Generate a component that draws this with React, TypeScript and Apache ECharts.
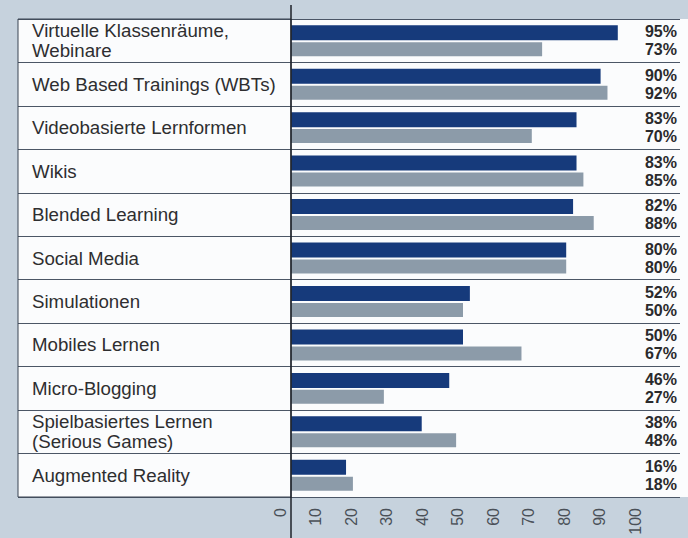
import React, { useEffect, useRef } from "react";
import * as echarts from "echarts";

const categories = [
  "Virtuelle Klassenräume,\nWebinare",
  "Web Based Trainings (WBTs)",
  "Videobasierte Lernformen",
  "Wikis",
  "Blended Learning",
  "Social Media",
  "Simulationen",
  "Mobiles Lernen",
  "Micro-Blogging",
  "Spielbasiertes Lernen\n(Serious Games)",
  "Augmented Reality",
];
const seriesDark = [95, 90, 83, 83, 82, 80, 52, 50, 46, 38, 16];
const seriesGrey = [73, 92, 70, 85, 88, 80, 50, 67, 27, 48, 18];
const xTicks = { min: 0, max: 100, interval: 10 };

const FONT = "'Liberation Sans', Arial, sans-serif";
const BG = "#c6d2dd";
const LINE = "#4b5666";

export default function App() {
  const ref = useRef<HTMLDivElement>(null);
  useEffect(() => {
    if (!ref.current) return;
    const chart = echarts.init(ref.current, null, { renderer: "svg" });
    chart.setOption({
      animation: false,
      backgroundColor: BG,
      textStyle: { fontFamily: FONT },
      grid: [
        { left: 291, right: 53, top: 19, bottom: 41, containLabel: false },
        { left: 280, right: 53, top: 19, bottom: 41, containLabel: false },
      ],
      graphic: [
        {
          type: "rect",
          z: -10,
          shape: { x: 18, y: 19, width: 670, height: 478 },
          style: { fill: "#fbfcfd" },
        },
        {
          type: "rect",
          z: 5,
          shape: { x: 18, y: 19, width: 273, height: 478 },
          style: { fill: "none", stroke: "#3a4452", lineWidth: 1 },
        },
        {
          type: "line",
          z: 10,
          shape: { x1: 291, y1: 5, x2: 291, y2: 538 },
          style: { stroke: "#1e2228", lineWidth: 1.5 },
        },
      ],
      xAxis: [
        {
          type: "value",
          gridIndex: 0,
          min: xTicks.min,
          max: xTicks.max,
          interval: xTicks.interval,
          axisLine: { show: false },
          axisTick: { show: false },
          splitLine: { show: false },
          axisLabel: { show: false },
        },
        {
          type: "value",
          gridIndex: 1,
          min: xTicks.min,
          max: xTicks.max,
          interval: xTicks.interval,
          axisLine: { show: false },
          axisTick: { show: false },
          splitLine: { show: false },
          axisLabel: {
            rotate: 90,
            margin: 11,
            fontSize: 16,
            color: "#4a5058",
            fontFamily: FONT,
          },
        },
      ],
      yAxis: [
        {
          type: "category",
          gridIndex: 0,
          data: categories,
          inverse: true,
          position: "left",
          axisLine: { show: false },
          axisTick: {
            show: true,
            interval: 0,
            length: 273,
            lineStyle: { color: LINE, width: 1 },
          },
          splitLine: { show: true, interval: 0, lineStyle: { color: LINE, width: 1 } },
          axisLabel: {
            interval: 0,
            align: "left",
            margin: 259,
            fontSize: 18.7,
            lineHeight: 20,
            color: "#2e2e30",
            fontFamily: FONT,
          },
        },
        {
          type: "category",
          gridIndex: 0,
          data: categories,
          inverse: true,
          position: "right",
          axisLine: { show: false },
          axisTick: {
            show: true,
            interval: 0,
            length: 45,
            lineStyle: { color: LINE, width: 1 },
          },
          splitLine: { show: false },
          axisLabel: {
            interval: 0,
            align: "right",
            margin: 42,
            fontSize: 16,
            fontWeight: "bold",
            lineHeight: 18,
            color: "#2a2a2c",
            fontFamily: FONT,
            formatter: (_v: string, i: number) => `${seriesDark[i]}%\n${seriesGrey[i]}%`,
          },
        },
        {
          type: "category",
          gridIndex: 1,
          data: categories,
          show: false,
        },
      ],
      series: [
        {
          type: "bar",
          data: seriesDark,
          barWidth: 15,
          barGap: "13%",
          itemStyle: { color: "#163a7b" },
          xAxisIndex: 0,
          yAxisIndex: 0,
        },
        {
          type: "bar",
          data: seriesGrey,
          barWidth: 14,
          itemStyle: { color: "#8c9ba9" },
          xAxisIndex: 0,
          yAxisIndex: 0,
        },
      ],
    });
    return () => chart.dispose();
  }, []);
  return <div ref={ref} style={{ width: 688, height: 538, position: "fixed", left: 0, top: 0 }} />;
}
